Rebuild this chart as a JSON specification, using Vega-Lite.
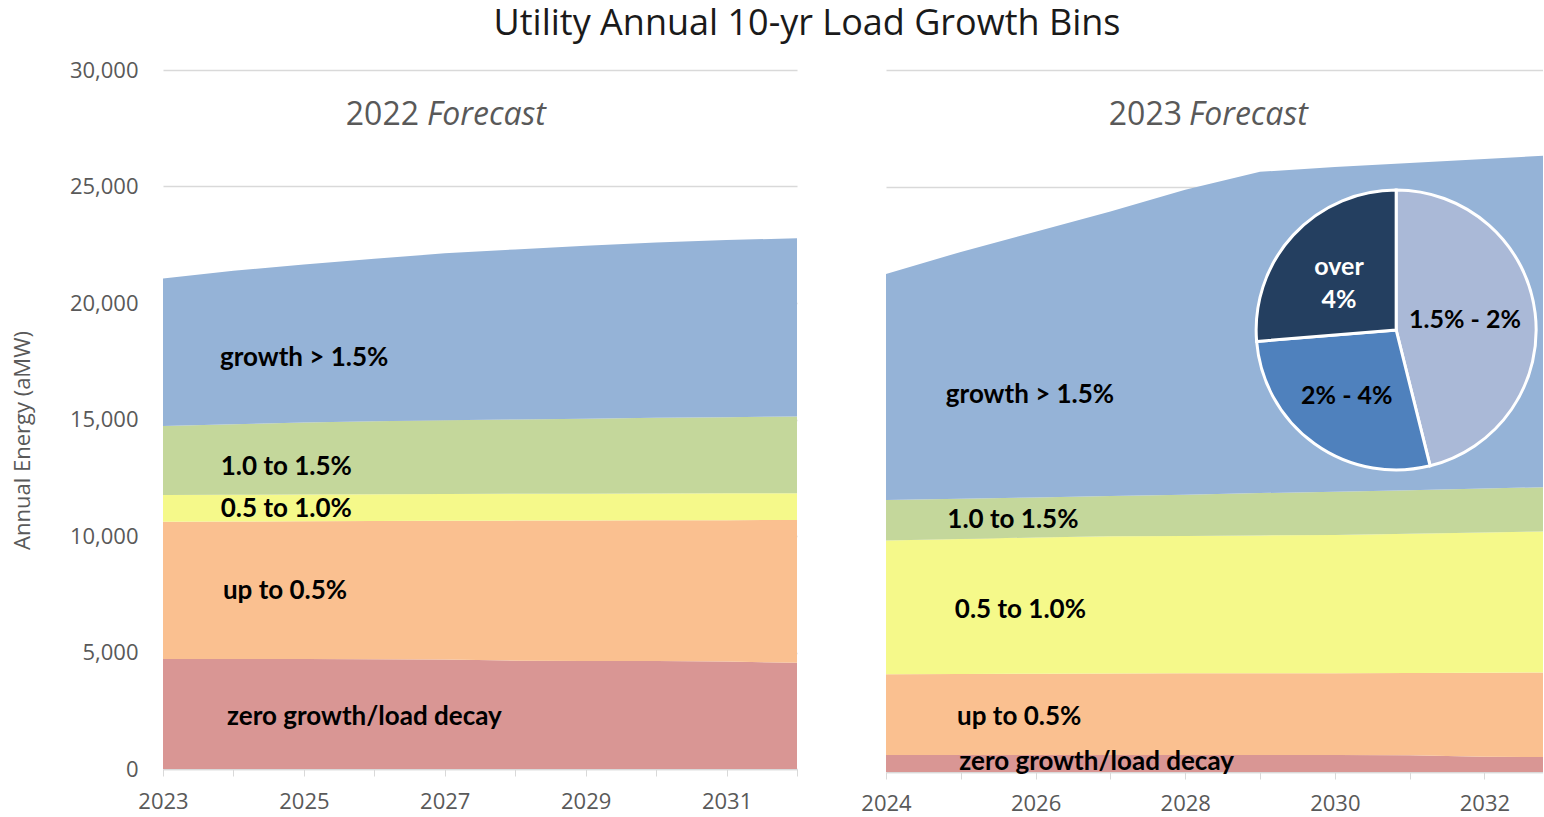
{
  "$schema": "https://vega.github.io/schema/vega-lite/v6.json",
  "padding": {"left": 11, "top": 6, "right": 0, "bottom": 0},
  "background": "white",
  "title": {"text": "Utility Annual 10-yr Load Growth Bins", "font": "Open Sans", "fontSize": 36, "fontWeight": "normal", "color": "#1a1a1a", "anchor": "middle", "dx": 30, "offset": 16},
  "config": {
    "view": {"stroke": null},
    "axis": {"labelFont": "Open Sans", "labelColor": "#595959", "labelFontSize": 22, "titleFont": "Open Sans", "titleColor": "#595959", "titleFontWeight": "normal", "gridColor": "#d9d9d9", "gridWidth": 1.3, "domainColor": "#d9d9d9", "tickColor": "#d9d9d9"}
  },
  "bounds": "flush",
  "spacing": 89,
  "datasets": {
    "left": [
      {"year": 2023, "bin": "zero growth/load decay", "k": 1, "energy": 4720},
      {"year": 2023, "bin": "up to 0.5%", "k": 2, "energy": 5890},
      {"year": 2023, "bin": "0.5 to 1.0%", "k": 3, "energy": 1150},
      {"year": 2023, "bin": "1.0 to 1.5%", "k": 4, "energy": 2960},
      {"year": 2023, "bin": "growth > 1.5%", "k": 5, "energy": 6330},
      {"year": 2024, "bin": "zero growth/load decay", "k": 1, "energy": 4720},
      {"year": 2024, "bin": "up to 0.5%", "k": 2, "energy": 5900},
      {"year": 2024, "bin": "0.5 to 1.0%", "k": 3, "energy": 1150},
      {"year": 2024, "bin": "1.0 to 1.5%", "k": 4, "energy": 3030},
      {"year": 2024, "bin": "growth > 1.5%", "k": 5, "energy": 6580},
      {"year": 2025, "bin": "zero growth/load decay", "k": 1, "energy": 4720},
      {"year": 2025, "bin": "up to 0.5%", "k": 2, "energy": 5910},
      {"year": 2025, "bin": "0.5 to 1.0%", "k": 3, "energy": 1150},
      {"year": 2025, "bin": "1.0 to 1.5%", "k": 4, "energy": 3090},
      {"year": 2025, "bin": "growth > 1.5%", "k": 5, "energy": 6780},
      {"year": 2026, "bin": "zero growth/load decay", "k": 1, "energy": 4710},
      {"year": 2026, "bin": "up to 0.5%", "k": 2, "energy": 5930},
      {"year": 2026, "bin": "0.5 to 1.0%", "k": 3, "energy": 1150},
      {"year": 2026, "bin": "1.0 to 1.5%", "k": 4, "energy": 3130},
      {"year": 2026, "bin": "growth > 1.5%", "k": 5, "energy": 6980},
      {"year": 2027, "bin": "zero growth/load decay", "k": 1, "energy": 4700},
      {"year": 2027, "bin": "up to 0.5%", "k": 2, "energy": 5950},
      {"year": 2027, "bin": "0.5 to 1.0%", "k": 3, "energy": 1150},
      {"year": 2027, "bin": "1.0 to 1.5%", "k": 4, "energy": 3170},
      {"year": 2027, "bin": "growth > 1.5%", "k": 5, "energy": 7160},
      {"year": 2028, "bin": "zero growth/load decay", "k": 1, "energy": 4650},
      {"year": 2028, "bin": "up to 0.5%", "k": 2, "energy": 6010},
      {"year": 2028, "bin": "0.5 to 1.0%", "k": 3, "energy": 1150},
      {"year": 2028, "bin": "1.0 to 1.5%", "k": 4, "energy": 3190},
      {"year": 2028, "bin": "growth > 1.5%", "k": 5, "energy": 7300},
      {"year": 2029, "bin": "zero growth/load decay", "k": 1, "energy": 4640},
      {"year": 2029, "bin": "up to 0.5%", "k": 2, "energy": 6030},
      {"year": 2029, "bin": "0.5 to 1.0%", "k": 3, "energy": 1145},
      {"year": 2029, "bin": "1.0 to 1.5%", "k": 4, "energy": 3215},
      {"year": 2029, "bin": "growth > 1.5%", "k": 5, "energy": 7430},
      {"year": 2030, "bin": "zero growth/load decay", "k": 1, "energy": 4630},
      {"year": 2030, "bin": "up to 0.5%", "k": 2, "energy": 6045},
      {"year": 2030, "bin": "0.5 to 1.0%", "k": 3, "energy": 1145},
      {"year": 2030, "bin": "1.0 to 1.5%", "k": 4, "energy": 3250},
      {"year": 2030, "bin": "growth > 1.5%", "k": 5, "energy": 7530},
      {"year": 2031, "bin": "zero growth/load decay", "k": 1, "energy": 4610},
      {"year": 2031, "bin": "up to 0.5%", "k": 2, "energy": 6070},
      {"year": 2031, "bin": "0.5 to 1.0%", "k": 3, "energy": 1150},
      {"year": 2031, "bin": "1.0 to 1.5%", "k": 4, "energy": 3270},
      {"year": 2031, "bin": "growth > 1.5%", "k": 5, "energy": 7600},
      {"year": 2032, "bin": "zero growth/load decay", "k": 1, "energy": 4560},
      {"year": 2032, "bin": "up to 0.5%", "k": 2, "energy": 6130},
      {"year": 2032, "bin": "0.5 to 1.0%", "k": 3, "energy": 1145},
      {"year": 2032, "bin": "1.0 to 1.5%", "k": 4, "energy": 3295},
      {"year": 2032, "bin": "growth > 1.5%", "k": 5, "energy": 7650}
    ],
    "right": [
      {"year": 2024, "bin": "zero growth/load decay", "k": 1, "energy": 730},
      {"year": 2024, "bin": "up to 0.5%", "k": 2, "energy": 3450},
      {"year": 2024, "bin": "0.5 to 1.0%", "k": 3, "energy": 5710},
      {"year": 2024, "bin": "1.0 to 1.5%", "k": 4, "energy": 1735},
      {"year": 2024, "bin": "growth > 1.5%", "k": 5, "energy": 9660},
      {"year": 2025, "bin": "zero growth/load decay", "k": 1, "energy": 730},
      {"year": 2025, "bin": "up to 0.5%", "k": 2, "energy": 3460},
      {"year": 2025, "bin": "0.5 to 1.0%", "k": 3, "energy": 5770},
      {"year": 2025, "bin": "1.0 to 1.5%", "k": 4, "energy": 1720},
      {"year": 2025, "bin": "growth > 1.5%", "k": 5, "energy": 10545},
      {"year": 2026, "bin": "zero growth/load decay", "k": 1, "energy": 730},
      {"year": 2026, "bin": "up to 0.5%", "k": 2, "energy": 3470},
      {"year": 2026, "bin": "0.5 to 1.0%", "k": 3, "energy": 5820},
      {"year": 2026, "bin": "1.0 to 1.5%", "k": 4, "energy": 1710},
      {"year": 2026, "bin": "growth > 1.5%", "k": 5, "energy": 11360},
      {"year": 2027, "bin": "zero growth/load decay", "k": 1, "energy": 730},
      {"year": 2027, "bin": "up to 0.5%", "k": 2, "energy": 3480},
      {"year": 2027, "bin": "0.5 to 1.0%", "k": 3, "energy": 5860},
      {"year": 2027, "bin": "1.0 to 1.5%", "k": 4, "energy": 1720},
      {"year": 2027, "bin": "growth > 1.5%", "k": 5, "energy": 12160},
      {"year": 2028, "bin": "zero growth/load decay", "k": 1, "energy": 730},
      {"year": 2028, "bin": "up to 0.5%", "k": 2, "energy": 3485},
      {"year": 2028, "bin": "0.5 to 1.0%", "k": 3, "energy": 5875},
      {"year": 2028, "bin": "1.0 to 1.5%", "k": 4, "energy": 1760},
      {"year": 2028, "bin": "growth > 1.5%", "k": 5, "energy": 13030},
      {"year": 2029, "bin": "zero growth/load decay", "k": 1, "energy": 730},
      {"year": 2029, "bin": "up to 0.5%", "k": 2, "energy": 3490},
      {"year": 2029, "bin": "0.5 to 1.0%", "k": 3, "energy": 5890},
      {"year": 2029, "bin": "1.0 to 1.5%", "k": 4, "energy": 1810},
      {"year": 2029, "bin": "growth > 1.5%", "k": 5, "energy": 13730},
      {"year": 2030, "bin": "zero growth/load decay", "k": 1, "energy": 730},
      {"year": 2030, "bin": "up to 0.5%", "k": 2, "energy": 3495},
      {"year": 2030, "bin": "0.5 to 1.0%", "k": 3, "energy": 5905},
      {"year": 2030, "bin": "1.0 to 1.5%", "k": 4, "energy": 1850},
      {"year": 2030, "bin": "growth > 1.5%", "k": 5, "energy": 13880},
      {"year": 2031, "bin": "zero growth/load decay", "k": 1, "energy": 720},
      {"year": 2031, "bin": "up to 0.5%", "k": 2, "energy": 3510},
      {"year": 2031, "bin": "0.5 to 1.0%", "k": 3, "energy": 5950},
      {"year": 2031, "bin": "1.0 to 1.5%", "k": 4, "energy": 1860},
      {"year": 2031, "bin": "growth > 1.5%", "k": 5, "energy": 13990},
      {"year": 2032, "bin": "zero growth/load decay", "k": 1, "energy": 650},
      {"year": 2032, "bin": "up to 0.5%", "k": 2, "energy": 3595},
      {"year": 2032, "bin": "0.5 to 1.0%", "k": 3, "energy": 5995},
      {"year": 2032, "bin": "1.0 to 1.5%", "k": 4, "energy": 1880},
      {"year": 2032, "bin": "growth > 1.5%", "k": 5, "energy": 14080},
      {"year": 2033, "bin": "zero growth/load decay", "k": 1, "energy": 640},
      {"year": 2033, "bin": "up to 0.5%", "k": 2, "energy": 3620},
      {"year": 2033, "bin": "0.5 to 1.0%", "k": 3, "energy": 6030},
      {"year": 2033, "bin": "1.0 to 1.5%", "k": 4, "energy": 1890},
      {"year": 2033, "bin": "growth > 1.5%", "k": 5, "energy": 14190}
    ],
    "leftLabels": [
      {"year": 2023.81, "value": 17640, "label": "growth > 1.5%"},
      {"year": 2023.82, "value": 12962, "label": "1.0 to 1.5%"},
      {"year": 2023.82, "value": 11160, "label": "0.5 to 1.0%"},
      {"year": 2023.85, "value": 7640, "label": "up to 0.5%"},
      {"year": 2023.91, "value": 2232, "label": "zero growth/load decay"}
    ],
    "rightLabels": [
      {"year": 2024.80, "value": 16111, "label": "growth > 1.5%"},
      {"year": 2024.82, "value": 10769, "label": "1.0 to 1.5%"},
      {"year": 2024.92, "value": 6923, "label": "0.5 to 1.0%"},
      {"year": 2024.95, "value": 2350, "label": "up to 0.5%"},
      {"year": 2024.98, "value": 427, "label": "zero growth/load decay"}
    ],
    "pie": [
      {"segment": "1.5% - 2%", "k": 1, "share": 46.1},
      {"segment": "2% - 4%", "k": 2, "share": 27.6},
      {"segment": "over 4%", "k": 3, "share": 26.3}
    ],
    "pieDark": [
      {"year": 2031.74, "value": 19316, "label": "1.5% - 2%"},
      {"year": 2030.16, "value": 16068, "label": "2% - 4%"}
    ],
    "pieLight": [
      {"year": 2030.056, "value": 21581, "label": "over"},
      {"year": 2030.056, "value": 20171, "label": "4%"}
    ]
  },
  "hconcat": [
    {
      "width": 634,
      "height": 699,
      "layer": [
        {
          "data": {"name": "left"},
          "mark": {"type": "area", "clip": true},
          "encoding": {
            "x": {"field": "year", "type": "quantitative", "scale": {"domain": [2023, 2032], "nice": false, "zero": false},
              "axis": {"title": null, "grid": false, "values": [2023, 2024, 2025, 2026, 2027, 2028, 2029, 2030, 2031, 2032], "format": "d", "labelExpr": "datum.value % 2 == 1 ? datum.label : ''", "tickSize": 7, "labelPadding": 15, "domainWidth": 1.3, "labelFlush": false}},
            "y": {"field": "energy", "type": "quantitative", "stack": "zero", "scale": {"domain": [0, 30000], "nice": false},
              "axis": {"values": [0, 5000, 10000, 15000, 20000, 25000, 30000], "format": ",d", "ticks": false, "domain": false, "labelPadding": 25, "title": "Annual Energy (aMW)", "titleFontSize": 22, "titleX": -141, "titleY": 370, "titleBaseline": "middle", "titleAlign": "center", "titleAngle": -90}},
            "color": {"field": "bin", "type": "nominal", "legend": null,
              "scale": {"domain": ["zero growth/load decay", "up to 0.5%", "0.5 to 1.0%", "1.0 to 1.5%", "growth > 1.5%"], "range": ["#d99694", "#fac090", "#f5f98a", "#c4d79b", "#95b3d7"]}},
            "order": {"field": "k", "type": "quantitative"}
          }
        },
        {
          "data": {"name": "leftLabels"},
          "mark": {"type": "text", "align": "left", "baseline": "middle", "font": "Lato", "fontWeight": "bold", "fontSize": 26, "color": "#000000"},
          "encoding": {
            "x": {"field": "year", "type": "quantitative"},
            "y": {"field": "value", "type": "quantitative"},
            "text": {"field": "label"}
          }
        },
        {
          "data": {"values": [{"year": 2026.634, "value": 28070, "label": "2022"}]},
          "mark": {"type": "text", "align": "right", "baseline": "middle", "font": "Open Sans", "fontSize": 32, "color": "#595959"},
          "encoding": {
            "x": {"field": "year", "type": "quantitative"},
            "y": {"field": "value", "type": "quantitative"},
            "text": {"field": "label"}
          }
        },
        {
          "data": {"values": [{"year": 2026.748, "value": 28070, "label": "Forecast"}]},
          "mark": {"type": "text", "align": "left", "baseline": "middle", "font": "Open Sans", "fontStyle": "italic", "fontSize": 32, "color": "#595959"},
          "encoding": {
            "x": {"field": "year", "type": "quantitative"},
            "y": {"field": "value", "type": "quantitative"},
            "text": {"field": "label"}
          }
        }
      ]
    },
    {
      "width": 657,
      "height": 702,
      "resolve": {"scale": {"color": "independent"}},
      "layer": [
        {
          "data": {"name": "right"},
          "mark": {"type": "area", "clip": true},
          "encoding": {
            "x": {"field": "year", "type": "quantitative", "scale": {"domain": [2024, 2032.783], "nice": false, "zero": false},
              "axis": {"title": null, "grid": false, "values": [2024, 2025, 2026, 2027, 2028, 2029, 2030, 2031, 2032], "format": "d", "labelExpr": "datum.value % 2 == 0 ? datum.label : ''", "tickSize": 7, "labelPadding": 14, "domainWidth": 1.3, "labelFlush": false}},
            "y": {"field": "energy", "type": "quantitative", "stack": "zero", "scale": {"domain": [0, 30000], "nice": false},
              "axis": {"values": [0, 5000, 10000, 15000, 20000, 25000, 30000], "labels": false, "ticks": false, "domain": false, "title": null}},
            "color": {"field": "bin", "type": "nominal", "legend": null,
              "scale": {"domain": ["zero growth/load decay", "up to 0.5%", "0.5 to 1.0%", "1.0 to 1.5%", "growth > 1.5%"], "range": ["#d99694", "#fac090", "#f5f98a", "#c4d79b", "#95b3d7"]}},
            "order": {"field": "k", "type": "quantitative"}
          }
        },
        {
          "data": {"name": "rightLabels"},
          "mark": {"type": "text", "align": "left", "baseline": "middle", "font": "Lato", "fontWeight": "bold", "fontSize": 26, "color": "#000000"},
          "encoding": {
            "x": {"field": "year", "type": "quantitative"},
            "y": {"field": "value", "type": "quantitative"},
            "text": {"field": "label"}
          }
        },
        {
          "data": {"values": [{"year": 2027.957, "value": 28077, "label": "2023"}]},
          "mark": {"type": "text", "align": "right", "baseline": "middle", "font": "Open Sans", "fontSize": 32, "color": "#595959"},
          "encoding": {
            "x": {"field": "year", "type": "quantitative"},
            "y": {"field": "value", "type": "quantitative"},
            "text": {"field": "label"}
          }
        },
        {
          "data": {"values": [{"year": 2028.05, "value": 28077, "label": "Forecast"}]},
          "mark": {"type": "text", "align": "left", "baseline": "middle", "font": "Open Sans", "fontStyle": "italic", "fontSize": 32, "color": "#595959"},
          "encoding": {
            "x": {"field": "year", "type": "quantitative"},
            "y": {"field": "value", "type": "quantitative"},
            "text": {"field": "label"}
          }
        },
        {
          "data": {"name": "pie"},
          "mark": {"type": "arc", "outerRadius": 140, "stroke": "#ffffff", "strokeWidth": 3},
          "encoding": {
            "theta": {"field": "share", "type": "quantitative", "stack": true},
            "color": {"field": "segment", "type": "nominal", "legend": null,
              "scale": {"domain": ["1.5% - 2%", "2% - 4%", "over 4%"], "range": ["#aab9d7", "#4f81bd", "#243f60"]}},
            "order": {"field": "k", "type": "quantitative"},
            "x": {"datum": 2030.82, "type": "quantitative"},
            "y": {"datum": 18889, "type": "quantitative"}
          }
        },
        {
          "data": {"name": "pieDark"},
          "mark": {"type": "text", "align": "center", "baseline": "middle", "font": "Lato", "fontWeight": "bold", "fontSize": 25, "color": "#000000"},
          "encoding": {
            "x": {"field": "year", "type": "quantitative"},
            "y": {"field": "value", "type": "quantitative"},
            "text": {"field": "label"}
          }
        },
        {
          "data": {"name": "pieLight"},
          "mark": {"type": "text", "align": "center", "baseline": "middle", "font": "Lato", "fontWeight": "bold", "fontSize": 25, "color": "#ffffff"},
          "encoding": {
            "x": {"field": "year", "type": "quantitative"},
            "y": {"field": "value", "type": "quantitative"},
            "text": {"field": "label"}
          }
        }
      ]
    }
  ]
}
